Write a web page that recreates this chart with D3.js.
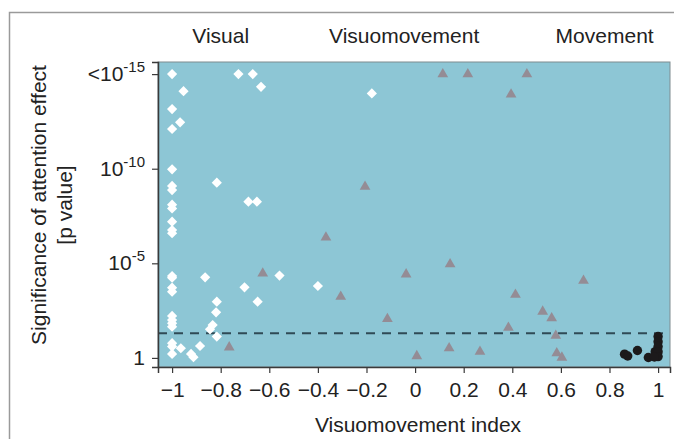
<!DOCTYPE html>
<html>
<head>
<meta charset="utf-8">
<script src="https://cdn.jsdelivr.net/npm/d3@7"></script>
<style>
  body { margin: 0; background: #fff; }
  svg text { font-family: "Liberation Sans", Arial, sans-serif; fill: #222; }
</style>
</head>
<body>
<svg id="chart" width="674" height="439"></svg>
<script>
// valeurs : indice visuomoteur et -log10(p)
var visualIndex = [-1, -0.727, -0.668, -0.634, -0.953, -1, -0.967, -1, -1, -0.816, -1, -1, -0.686, -0.651, -1, -1,
  -1, -1, -1, -1, -1, -1, -1, -0.864, -0.702, -0.558, -0.4, -0.648, -0.816, -0.819, -1, -1, -1, -1,
  -0.833, -0.844, -0.816, -1, -1, -0.964, -1, -0.922, -0.912, -0.885, -0.178];
var visualSig = [15, 15, 15, 14.33, 14.1, 13.15, 12.45, 12.1, 9.97, 9.26, 9.09, 8.87, 8.26, 8.26, 8.1, 7.9,
  7.2, 6.76, 6.59, 4.33, 4.24, 3.71, 3.5, 4.26, 3.73, 4.35, 3.8, 2.97, 2.97, 2.41, 2.22, 2.0, 1.83, 1.65,
  1.74, 1.51, 1.13, 0.78, 0.6, 0.51, 0.21, 0.21, 0.04, 0.63, 13.98];

var vmIndex = [0.114, 0.217, 0.46, 0.395, -0.206, -0.367, -0.627, -0.765, -0.306, -0.114, -0.037, 0.144,
  0.007, 0.14, 0.267, 0.384, 0.413, 0.525, 0.562, 0.579, 0.583, 0.604, 0.693];
var vmSig = [15, 15, 15, 13.93, 9.05, 6.37, 4.47, 0.56, 3.24, 2.06, 4.42, 4.95,
  0.1, 0.51, 0.33, 1.6, 3.34, 2.45, 2.1, 1.18, 0.25, 0.02, 4.08];

var moveIndex = [0.862, 0.875, 0.915, 0.96, 0.988, 1, 1, 1, 1, 1, 0.985];
var moveSig = [0.2, 0.1, 0.39, 0.02, 0.33, 1.13, 0.86, 0.6, 0.33, 0.07, 0.05];

var xTicks = [-1, -0.8, -0.6, -0.4, -0.2, 0, 0.2, 0.4, 0.6, 0.8, 1];
var yTicks = [0, 5, 10, 15];
var yTickLabels = [["1", ""], ["10", "-5"], ["10", "-10"], ["<10", "-15"]];
var groupLabels = ["Visual", "Visuomovement", "Movement"];
var groupPos = [-0.8, -0.045, 0.78];
var threshold = -Math.log10(0.05);

var svg = d3.select("#chart");
var plotLeft = 158, plotRight = 670, plotTop = 62, plotBottom = 367;

var x = d3.scaleLinear().domain([-1.058, 1.049]).range([plotLeft, plotRight]);
var y = d3.scaleLinear().domain([-0.48, 15.64]).range([plotBottom, plotTop]);

// cadre gris autour de la figure
svg.append("path")
  .attr("d", "M9.5,439 V12.5 H674")
  .attr("fill", "none")
  .attr("stroke", "#9a9a9a")
  .attr("stroke-width", 1.5);

svg.append("rect")
  .attr("x", plotLeft)
  .attr("y", plotTop)
  .attr("width", plotRight - plotLeft)
  .attr("height", plotBottom - plotTop)
  .attr("fill", "#8dc6d5")
  .attr("stroke", "#7f8c90")
  .attr("stroke-width", 1);

svg.append("line")
  .attr("x1", plotLeft)
  .attr("x2", plotRight)
  .attr("y1", y(threshold))
  .attr("y2", y(threshold))
  .attr("stroke", "#2f4a55")
  .attr("stroke-width", 2)
  .attr("stroke-dasharray", "9,7");

svg.append("g").selectAll("path")
  .data(visualIndex.map(function (d, i) { return [d, visualSig[i]]; }))
  .join("path")
  .attr("d", d3.symbol().type(d3.symbolSquare).size(52)())
  .attr("transform", function (d) { return "translate(" + x(d[0]) + "," + y(d[1]) + ") rotate(45)"; })
  .attr("fill", "#fff");

svg.append("g").selectAll("path")
  .data(vmIndex.map(function (d, i) { return [d, vmSig[i]]; }))
  .join("path")
  .attr("d", d3.symbol().type(d3.symbolTriangle).size(50)())
  .attr("transform", function (d) { return "translate(" + x(d[0]) + "," + y(d[1]) + ")"; })
  .attr("fill", "#948c95");

svg.append("g").selectAll("circle")
  .data(moveIndex.map(function (d, i) { return [d, moveSig[i]]; }))
  .join("circle")
  .attr("cx", function (d) { return x(d[0]); })
  .attr("cy", function (d) { return y(d[1]); })
  .attr("r", 4.7)
  .attr("fill", "#1c1a1b");

// axes
var xAxis = svg.append("g")
  .attr("transform", "translate(0," + plotBottom + ")")
  .call(d3.axisBottom(x).tickValues(xTicks).tickSize(6).tickPadding(8).tickFormat(d3.format("")));
xAxis.selectAll("text").attr("font-size", "21px").attr("dy", "0.75em");

var yAxis = svg.append("g")
  .attr("transform", "translate(" + plotLeft + ",0)")
  .call(d3.axisLeft(y).tickValues(yTicks).tickSize(6).tickFormat(""));

[xAxis, yAxis].forEach(function (a) {
  a.select(".domain").attr("stroke", "#3a3a3a").attr("stroke-width", 1.5);
  a.selectAll(".tick line").attr("stroke", "#3a3a3a").attr("stroke-width", 1.2);
});

var ylab = svg.append("g").selectAll("text")
  .data(yTicks)
  .join("text")
  .attr("x", 145)
  .attr("y", function (d) { return y(d) + 7; })
  .attr("text-anchor", "end")
  .attr("font-size", "21px");
ylab.append("tspan").text(function (d, i) { return yTickLabels[i][0]; });
ylab.append("tspan")
  .attr("dy", -9)
  .attr("font-size", "15px")
  .text(function (d, i) { return yTickLabels[i][1]; });

svg.append("g").selectAll("text")
  .data(groupLabels)
  .join("text")
  .attr("x", function (d, i) { return x(groupPos[i]); })
  .attr("y", 43)
  .attr("text-anchor", "middle")
  .attr("font-size", "21px")
  .text(function (d) { return d; });

svg.append("text")
  .attr("x", 418)
  .attr("y", 432)
  .attr("text-anchor", "middle")
  .attr("font-size", "21px")
  .text("Visuomovement index");

svg.append("text")
  .attr("transform", "translate(46,205) rotate(-90)")
  .attr("text-anchor", "middle")
  .attr("font-size", "21px")
  .text("Significance of attention effect");
svg.append("text")
  .attr("transform", "translate(72,205) rotate(-90)")
  .attr("text-anchor", "middle")
  .attr("font-size", "21px")
  .text("[p value]");
</script>
</body>
</html>
